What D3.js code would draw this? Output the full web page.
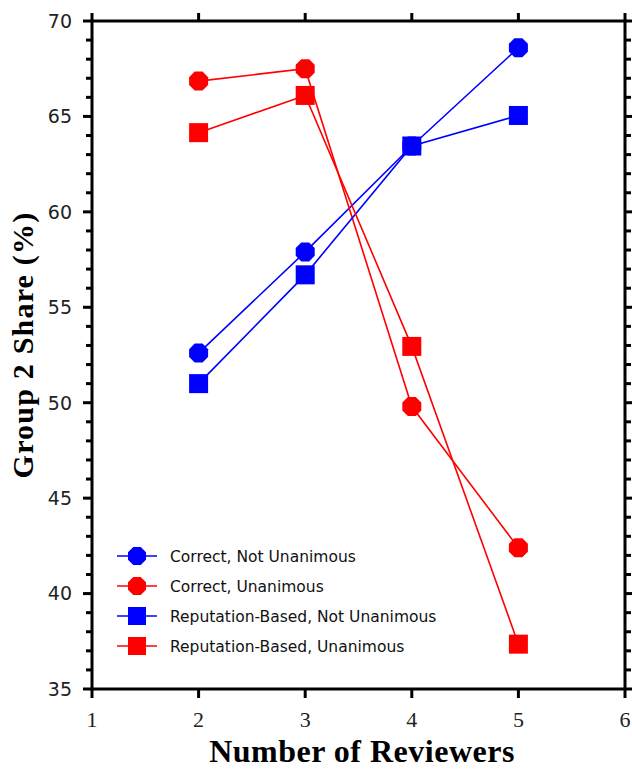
<!DOCTYPE html>
<html><head><meta charset="utf-8">
<script src="https://cdn.jsdelivr.net/npm/d3@7"></script>
<style>body{margin:0;background:#fff}svg{display:block}</style>
</head><body>
<script>
const reviewers = [2, 3, 4, 5];
const correctNotUnan = [52.6, 57.9, 63.45, 68.6];
const correctUnan = [66.85, 67.5, 49.8, 42.4];
const repNotUnan = [51.0, 56.7, 63.45, 65.05];
const repUnan = [64.15, 66.1, 52.95, 37.35];
const seriesNames = ["Correct, Not Unanimous", "Correct, Unanimous", "Reputation-Based, Not Unanimous", "Reputation-Based, Unanimous"];
const xTicks = [1, 2, 3, 4, 5, 6];
const yTicks = [35, 40, 45, 50, 55, 60, 65, 70];

const series = [
  {name: seriesNames[0], values: correctNotUnan, color: "#0000ff", shape: "circle"},
  {name: seriesNames[1], values: correctUnan, color: "#ff0000", shape: "circle"},
  {name: seriesNames[2], values: repNotUnan, color: "#0000ff", shape: "square"},
  {name: seriesNames[3], values: repUnan, color: "#ff0000", shape: "square"}
];

const W = 632, H = 769;
const L = 92, R = 625, T = 21, B = 689;
const svg = d3.select("body").append("svg").attr("width", W).attr("height", H);
const x = d3.scaleLinear().domain([1, 6]).range([L, R]);
const y = d3.scaleLinear().domain([35, 70]).range([B, T]);

// frame
svg.append("rect").attr("x", L).attr("y", T).attr("width", R - L).attr("height", B - T)
  .attr("fill", "none").attr("stroke", "#000").attr("stroke-width", 3);

const minorY = d3.range(35, 71, 1);
svg.append("g").selectAll("line").data(minorY).join("line")
  .attr("x1", d => d % 5 === 0 ? L - 9 : L - 6).attr("x2", L)
  .attr("y1", d => y(d)).attr("y2", d => y(d)).attr("stroke", "#000").attr("stroke-width", 3);
svg.append("g").selectAll("line").data(minorY).join("line")
  .attr("x1", R).attr("x2", d => d % 5 === 0 ? R + 9 : R + 6)
  .attr("y1", d => y(d)).attr("y2", d => y(d)).attr("stroke", "#000").attr("stroke-width", 3);
svg.append("g").selectAll("line").data(xTicks).join("line")
  .attr("x1", d => x(d)).attr("x2", d => x(d)).attr("y1", B).attr("y2", B + 9)
  .attr("stroke", "#000").attr("stroke-width", 3);
svg.append("g").selectAll("line").data(xTicks).join("line")
  .attr("x1", d => x(d)).attr("x2", d => x(d)).attr("y1", T).attr("y2", T - 8)
  .attr("stroke", "#000").attr("stroke-width", 3);

// tick labels
svg.append("g").selectAll("text").data(yTicks).join("text")
  .attr("x", L - 20).attr("y", d => y(d)).attr("dy", "0.36em").attr("text-anchor", "end")
  .attr("font-family", "DejaVu Sans, sans-serif").attr("font-size", 19).attr("fill", "#222")
  .text(d => d);
svg.append("g").selectAll("text").data(xTicks).join("text")
  .attr("x", d => x(d)).attr("y", 727).attr("text-anchor", "middle")
  .attr("font-family", "Liberation Serif, serif").attr("font-size", 22).attr("fill", "#222")
  .text(d => d);

// axis titles
svg.append("text").attr("x", 362).attr("y", 762).attr("text-anchor", "middle")
  .attr("font-family", "Liberation Serif, serif").attr("font-weight", "bold").attr("font-size", 32)
  .attr("letter-spacing", 0.5)
  .text("Number of Reviewers");
svg.append("text").attr("transform", `translate(33,345) rotate(-90)`).attr("text-anchor", "middle")
  .attr("font-family", "Liberation Serif, serif").attr("font-weight", "bold").attr("font-size", 30)
  .attr("letter-spacing", 1.2)
  .text("Group 2 Share (%)");

function octagon(cx, cy, r) {
  const pts = d3.range(8).map(i => {
    const a = Math.PI / 8 + i * Math.PI / 4;
    return [cx + r * Math.cos(a), cy + r * Math.sin(a)];
  });
  return "M" + pts.map(p => p.join(",")).join("L") + "Z";
}
function drawMarker(g, shape, cx, cy, size, color) {
  if (shape === "circle") {
    g.append("path").attr("d", octagon(cx, cy, size / 2 / Math.cos(Math.PI / 8))).attr("fill", color);
  } else {
    g.append("rect").attr("x", cx - size / 2).attr("y", cy - size / 2).attr("width", size).attr("height", size).attr("fill", color);
  }
}

const line = d3.line().x((d, i) => x(reviewers[i])).y(d => y(d));
const plot = svg.append("g");
series.forEach(s => {
  plot.append("path").attr("d", line(s.values)).attr("fill", "none")
    .attr("stroke", s.color).attr("stroke-width", 1.6);
});
series.forEach(s => {
  s.values.forEach((v, i) => drawMarker(plot, s.shape, x(reviewers[i]), y(v), 19, s.color));
});

// legend
const lg = svg.append("g");
series.forEach((s, i) => {
  const cy = 556 + i * 30;
  lg.append("line").attr("x1", 117).attr("x2", 157).attr("y1", cy).attr("y2", cy)
    .attr("stroke", s.color).attr("stroke-width", 1.6);
  drawMarker(lg, s.shape, 137, cy, 18, s.color);
  lg.append("text").attr("x", 170).attr("y", cy).attr("dy", "0.36em")
    .attr("font-family", "DejaVu Sans, sans-serif").attr("font-size", 15.5).attr("fill", "#111")
    .text(s.name);
});
</script>
</body></html>
